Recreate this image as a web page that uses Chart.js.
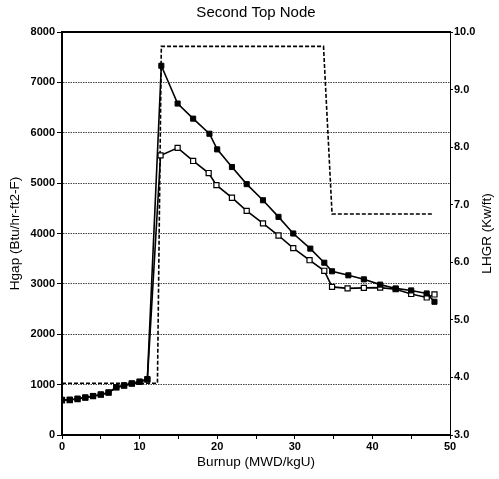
<!DOCTYPE html>
<html>
<head>
<meta charset="utf-8">
<script src="https://cdn.jsdelivr.net/npm/chart.js@4/dist/chart.umd.min.js"></script>
<style>
body { margin: 0; background: #fff; }
</style>
</head>
<body>
<canvas id="chart1" width="499" height="479"></canvas>
<script>
// filled squares
let burnupFilled = [0, 1, 2, 3, 4, 5, 6, 7, 8, 9, 10, 11, 12.8, 14.9, 16.9, 19, 20, 21.9, 23.8, 25.9, 27.9, 29.8, 32, 33.8, 34.8, 36.9, 38.9, 41, 43, 45, 47, 48];
let hgapFilled = [700, 700, 720, 745, 775, 805, 845, 950, 985, 1025, 1060, 1110, 7330, 6580, 6280, 5980, 5670, 5320, 4980, 4660, 4330, 4000, 3700, 3420, 3250, 3170, 3090, 2985, 2910, 2870, 2810, 2645];

// open squares
let burnupOpen = [0, 1, 2, 3, 4, 5, 6, 7, 8, 9, 10, 11, 12.7, 14.9, 16.9, 18.9, 19.9, 21.9, 23.8, 25.9, 27.9, 29.8, 31.9, 33.8, 34.8, 36.8, 38.9, 41, 43, 45, 47, 48];
let hgapOpen = [690, 695, 715, 740, 770, 800, 840, 945, 980, 1020, 1055, 1100, 5550, 5700, 5440, 5200, 4960, 4710, 4450, 4200, 3960, 3710, 3470, 3260, 2940, 2910, 2920, 2925, 2895, 2800, 2730, 2790];

// dashed power history (right axis)
let burnupLhgr = [0, 12.3, 12.8, 33.7, 34.8, 47.8];
let lhgr = [3.9, 3.9, 9.75, 9.75, 6.84, 6.84];

let chartTitle = 'Second Top Node';
let xTitle = 'Burnup (MWD/kgU)';
let yTitle = 'Hgap (Btu/hr-ft2-F)';
let y2Title = 'LHGR (Kw/ft)';

function toPoints(xs, ys) {
    return xs.map((x, i) => ({ x: x, y: ys[i] }));
}

let tickFont = { family: '"Liberation Sans", Arial, sans-serif', size: 11, weight: 'bold' };
let titleFont = { family: '"Liberation Sans", Arial, sans-serif', size: 13.5 };

// right axis title reads bottom to top, like the left one
let rightTitle = {
    id: 'rightTitle',
    afterDraw(chart) {
        let ctx = chart.ctx;
        let area = chart.chartArea;
        ctx.save();
        ctx.translate(487, (area.top + area.bottom) / 2);
        ctx.rotate(-Math.PI / 2);
        ctx.font = '13.5px "Liberation Sans", Arial, sans-serif';
        ctx.fillStyle = '#000';
        ctx.textAlign = 'center';
        ctx.textBaseline = 'middle';
        ctx.fillText(y2Title, 0, 0);
        ctx.restore();
    }
};

let ctx1 = document.getElementById('chart1').getContext('2d');

new Chart(ctx1, {
    type: 'line',
    data: {
        datasets: [{
            label: 'Hgap 1',
            data: toPoints(burnupFilled, hgapFilled),
            yAxisID: 'y',
            borderColor: '#000',
            borderWidth: 1.6,
            pointStyle: 'rect',
            pointRadius: 3.6,
            pointBackgroundColor: '#000',
            pointBorderColor: '#000',
            pointBorderWidth: 1,
            tension: 0
        }, {
            label: 'Hgap 2',
            data: toPoints(burnupOpen, hgapOpen),
            yAxisID: 'y',
            borderColor: '#000',
            borderWidth: 1.6,
            pointStyle: 'rect',
            pointRadius: 3.6,
            pointBackgroundColor: '#fff',
            pointBorderColor: '#000',
            pointBorderWidth: 1.2,
            tension: 0
        }, {
            label: 'LHGR',
            data: toPoints(burnupLhgr, lhgr),
            yAxisID: 'y2',
            borderColor: '#000',
            borderWidth: 1.6,
            borderDash: [4, 2],
            pointRadius: 0,
            tension: 0
        }]
    },
    options: {
        responsive: false,
        animation: false,
        devicePixelRatio: 1,
        layout: { padding: 0 },
        plugins: {
            legend: { display: false },
            tooltip: { enabled: false },
            title: {
                display: true,
                text: chartTitle,
                fullSize: false,
                color: '#000',
                font: { family: '"Liberation Sans", Arial, sans-serif', size: 15, weight: 'normal' },
                padding: { top: 4, bottom: 10 }
            }
        },
        scales: {
            x: {
                type: 'linear',
                position: 'bottom',
                min: 0,
                max: 50,
                afterFit: scale => { scale.height = 44; },
                ticks: {
                    stepSize: 5,
                    autoSkip: false,
                    maxRotation: 0,
                    padding: 1,
                    color: '#000',
                    font: tickFont,
                    callback: v => (v % 10 === 0 ? String(v) : '')
                },
                grid: { drawOnChartArea: false, drawTicks: true, tickLength: 4, color: '#000' },
                border: { color: '#000', width: 2 },
                title: { display: true, text: xTitle, color: '#000', font: titleFont, padding: { top: 0, bottom: 8.8 } }
            },
            xTop: {
                type: 'linear',
                position: 'top',
                afterFit: scale => { scale.height = 0; },
                ticks: { display: false },
                grid: { display: false },
                border: { color: '#000', width: 2 }
            },
            y: {
                type: 'linear',
                position: 'left',
                min: 0,
                max: 8000,
                afterFit: scale => { scale.width = 62; },
                ticks: { stepSize: 1000, padding: 2, color: '#000', font: tickFont, callback: v => String(v) },
                grid: { color: '#444', lineWidth: 1, tickLength: 5, tickColor: '#000' },
                border: { color: '#000', width: 2, dash: [1.5, 1] },
                title: { display: true, text: yTitle, color: '#000', font: titleFont, padding: { top: 7.4, bottom: 0 } }
            },
            y2: {
                type: 'linear',
                position: 'right',
                min: 3,
                max: 10,
                afterFit: scale => { scale.width = 49; },
                ticks: {
                    stepSize: 1,
                    padding: 1,
                    color: '#000',
                    font: tickFont,
                    callback: v => v.toFixed(1)
                },
                grid: { drawOnChartArea: false, drawTicks: true, tickLength: 3, color: '#000' },
                border: { color: '#000', width: 1 }
            }
        }
    },
    plugins: [rightTitle]
});
</script>
</body>
</html>
